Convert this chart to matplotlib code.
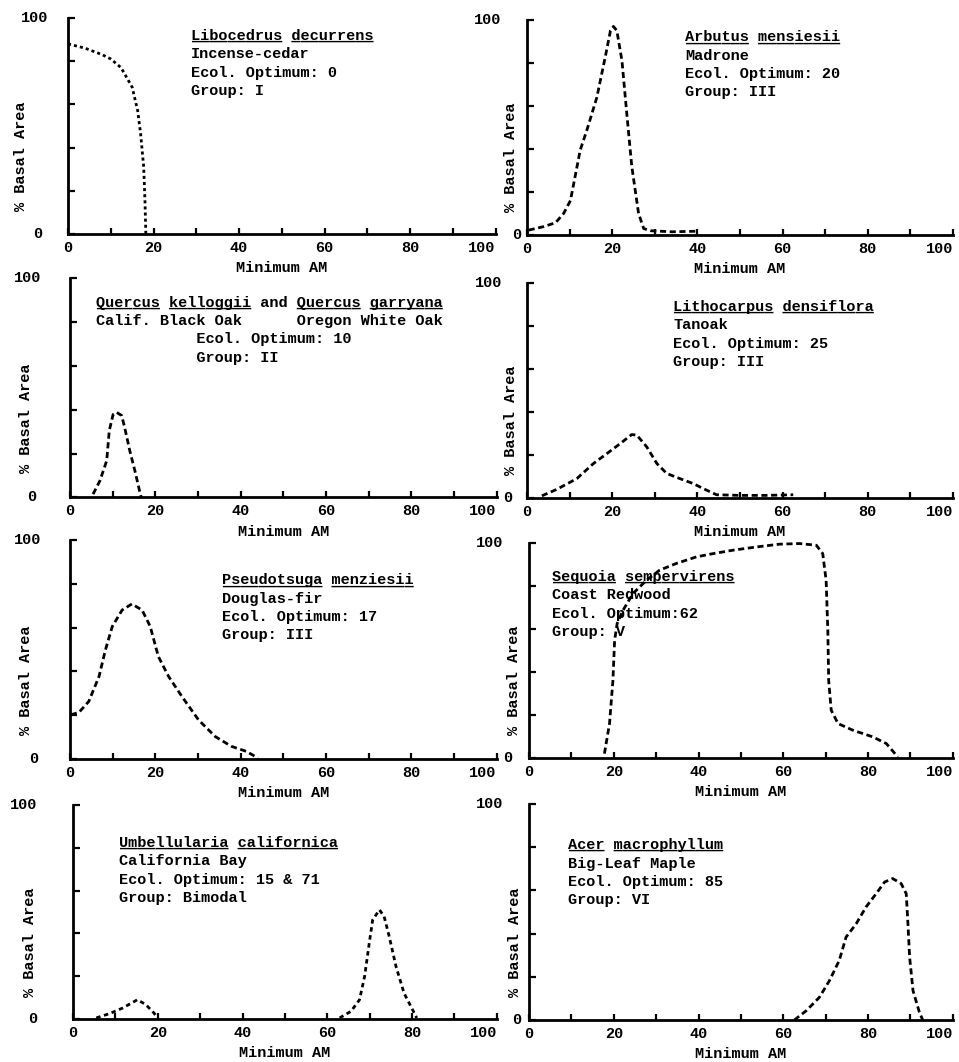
import matplotlib.pyplot as plt
from matplotlib import transforms

FONT = 'Liberation Mono'

# Minimum AM (x) vs % basal area (y)
libocedrus_x = [0, 4, 8, 10, 12.4, 15, 16.3, 17, 17.7, 18, 18.2]
libocedrus_y = [88, 86, 83, 81, 77, 68, 57, 46, 31, 15, 0]

arbutus_x = [0.4, 3.9, 6.7, 8.6, 10.2, 12.5, 14.1, 16.4, 18.4, 19.6, 20.3, 21.1, 22.3, 23.5,
             24.6, 26.2, 27.4, 29, 34, 40.3]
arbutus_y = [2.3, 3.9, 5.7, 10, 16, 39.5, 49, 64, 83, 95, 97, 95, 81, 55,
             32, 10, 3, 2, 1.5, 1.8]

quercus_x = [5.4, 7, 8.6, 9.2, 10.1, 10.9, 12.1, 12.8, 14, 15.2, 16.3, 16.7]
quercus_y = [1.5, 7.6, 16.8, 30.5, 37.9, 38.9, 37.4, 32, 21.4, 12.2, 3, 0]

lithocarpus_x = [3.5, 7, 11.7, 15.6, 18.8, 21.9, 24.6, 25.8, 28.1, 30.5, 32.8, 35.9, 39,
                 42.2, 44.5, 50, 56, 62.5]
lithocarpus_y = [1, 4, 9, 16, 20.7, 25.3, 29.5, 29.2, 23.8, 16, 11.4, 9, 6.7,
                 3.6, 1.5, 1.2, 1.2, 1.5]

pseudotsuga_x = [0.2, 2.1, 4.4, 6.8, 8.3, 9.9, 12.2, 14.5, 16.9, 18.8, 20.7, 23.1, 26.2,
                 30.1, 34, 37.8, 41.3, 44]
pseudotsuga_y = [20.2, 21.3, 26.3, 37.7, 49.8, 60.5, 68, 70.8, 68, 60.5, 46.8, 37.7, 28.6,
                 17.9, 10.3, 5.8, 3.5, 0.5]

sequoia_x = [17.8, 19, 19.8, 20.2, 20.8, 22.2, 24.5, 27.7, 30.8, 34.7, 39.5, 43.4, 48.1,
             53.6, 59.1, 63.8, 67.8, 69.3, 70.1, 70.5, 70.7, 71.3, 72.9, 76.4, 81.1, 84.3, 87]
sequoia_y = [2, 16, 36, 54.7, 62.5, 68.7, 76.4, 82.6, 87.3, 90.4, 93.5, 95, 96.6,
             98.1, 99.4, 99.7, 98.9, 95, 82.6, 59.4, 36, 22.2, 16, 12.9, 9.8, 6.7, 0.5]

umbellularia_x = [5.5, 8.6, 11.7, 15.2, 17.2, 19.1, 19.9, 21, 40, 62.9, 65.6, 67.6, 68.8,
                  69.9, 70.7, 72.3, 73.4, 74.6, 76.2, 78.1, 80.5, 81.1]
umbellularia_y = [0.5, 2.5, 5.1, 9, 6.7, 2.8, 0.5, None, None, 0.5, 3.6, 9, 19.9,
                  35.5, 46.3, 51, 47.9, 38.6, 24.6, 12.1, 2.8, 0.5]

acer_x = [62.6, 65.4, 68.5, 70.9, 73.2, 74.8, 77.2, 79.5, 81.9, 83.9, 85.8, 87.8, 89,
          89.4, 89.8, 90.6, 92.1, 92.9]
acer_y = [0, 4.3, 10.5, 18.3, 27.6, 38.4, 44.6, 52.3, 58.5, 63.9, 65.5, 63.2, 58.5,
          44.6, 29.1, 13.6, 3.6, 0]

libocedrus_text = ["Libocedrus decurrens", "Incense-cedar", "Ecol. Optimum: 0", "Group: I"]
libocedrus_ul = "__________ _________"
arbutus_text = ["Arbutus mensiesii", "Madrone", "Ecol. Optimum: 20", "Group: III"]
arbutus_ul = "_______ _________"
quercus_text = ["Quercus kelloggii and Quercus garryana",
                "Calif. Black Oak      Oregon White Oak",
                "           Ecol. Optimum: 10",
                "           Group: II"]
quercus_ul = "_______ _________     _______ ________"
lithocarpus_text = ["Lithocarpus densiflora", "Tanoak", "Ecol. Optimum: 25", "Group: III"]
lithocarpus_ul = "___________ __________"
pseudotsuga_text = ["Pseudotsuga menziesii", "Douglas-fir", "Ecol. Optimum: 17", "Group: III"]
pseudotsuga_ul = "___________ _________"
sequoia_text = ["Sequoia sempervirens", "Coast Redwood", "Ecol. Optimum:62", "Group: V"]
sequoia_ul = "_______ ____________"
umbellularia_text = ["Umbellularia californica", "California Bay", "Ecol. Optimum: 15 & 71",
                     "Group: Bimodal"]
umbellularia_ul = "____________ ___________"
acer_text = ["Acer macrophyllum", "Big-Leaf Maple", "Ecol. Optimum: 85", "Group: VI"]
acer_ul = "____ ____________"

x_ticks = [0, 20, 40, 60, 80, 100]
x_minor = [10, 30, 50, 70, 90]
y_ticks = [0, 20, 40, 60, 80, 100]

# (left, bottom, width, height) in figure fraction, text anchor, y-label x, "100"/"0" x
panels = [
    (libocedrus_x, libocedrus_y, libocedrus_text, libocedrus_ul, (1.1, 1.1),
     (0.0709, 0.7797, 0.4460, 0.2034), (0.287, 0.917), -0.094, -0.077, -0.070),
    (arbutus_x, arbutus_y, arbutus_text, arbutus_ul, (2.2, 1.3),
     (0.5495, 0.7787, 0.4442, 0.2025), (0.371, 0.920), -0.020, -0.092, -0.025),
    (quercus_x, quercus_y, quercus_text, quercus_ul, (2.2, 1.3),
     (0.0730, 0.5316, 0.4450, 0.2062), (0.061, 0.890), -0.087, -0.100, -0.090),
    (lithocarpus_x, lithocarpus_y, lithocarpus_text, lithocarpus_ul, (2.2, 1.3),
     (0.5495, 0.5311, 0.4442, 0.2025), (0.343, 0.888), -0.020, -0.090, -0.045),
    (pseudotsuga_x, pseudotsuga_y, pseudotsuga_text, pseudotsuga_ul, (2.2, 1.3),
     (0.0730, 0.2853, 0.4450, 0.2062), (0.357, 0.817), -0.087, -0.100, -0.086),
    (sequoia_x, sequoia_y, sequoia_text, sequoia_ul, (2.2, 1.3),
     (0.5516, 0.2863, 0.4420, 0.2025), (0.054, 0.842), -0.020, -0.092, -0.050),
    (umbellularia_x, umbellularia_y, umbellularia_text, umbellularia_ul, (1.6, 1.3),
     (0.0761, 0.0405, 0.4420, 0.2015), (0.108, 0.822), -0.084, -0.117, -0.096),
    (acer_x, acer_y, acer_text, acer_ul, (2.2, 1.3),
     (0.5516, 0.0395, 0.4420, 0.2034), (0.092, 0.810), -0.017, -0.092, -0.030),
]

fig = plt.figure(figsize=(9.59, 10.62), dpi=100)

for (xs, ys, lines, ul, dash, rect, anchor, ylab_x, x100, x0) in panels:
    ax = fig.add_axes(rect)
    ax.patch.set_visible(False)
    ax.plot(xs, ys, color='black', lw=2, linestyle=(0, dash), clip_on=False)
    ax.set_xlim(0, 100)
    ax.set_ylim(0, 100)
    for s in ['top', 'right']:
        ax.spines[s].set_visible(False)
    for s in ['left', 'bottom']:
        ax.spines[s].set_linewidth(2)
    ax.set_xticks(x_ticks)
    ax.set_xticks(x_minor, minor=True)
    ax.set_xticklabels([str(v) for v in x_ticks], fontfamily=FONT,
                       fontweight='bold', fontsize=11)
    ax.get_xticklabels()[-1].set_horizontalalignment('right')
    ax.set_yticks(y_ticks)
    ax.set_yticklabels([])
    ax.tick_params(axis='x', which='both', direction='in', length=4.5, width=1.6, pad=5)
    ax.tick_params(axis='y', direction='in', length=5, width=1.6)
    ytr = ax.get_yaxis_transform()
    ax.text(x100, 100, "100", transform=ytr, ha='center', va='center',
            fontfamily=FONT, fontweight='bold', fontsize=11)
    ax.text(x0, 0, "0", transform=ytr, ha='center', va='center',
            fontfamily=FONT, fontweight='bold', fontsize=11)
    ax.set_xlabel("Minimum AM", fontfamily=FONT, fontweight='bold', fontsize=11)
    ax.xaxis.set_label_coords(0.5, -0.125)
    ax.set_ylabel("% Basal Area", fontfamily=FONT, fontweight='bold', fontsize=11)
    ax.yaxis.set_label_coords(ylab_x, 0.36)

    tx, ty = anchor
    for i, line in enumerate(lines):
        tr = transforms.offset_copy(ax.transAxes, fig=fig, y=-13.2 * i, units='points')
        ax.text(tx, ty - 0.019, line, transform=tr, ha='left', va='baseline',
                fontfamily=FONT, fontweight='bold', fontsize=11)
        if i == 0:
            ax.text(tx, ty - 0.019, ul, transform=tr, ha='left', va='baseline',
                    fontfamily=FONT, fontweight='bold', fontsize=11)

fig.savefig('out.png', dpi=100)
